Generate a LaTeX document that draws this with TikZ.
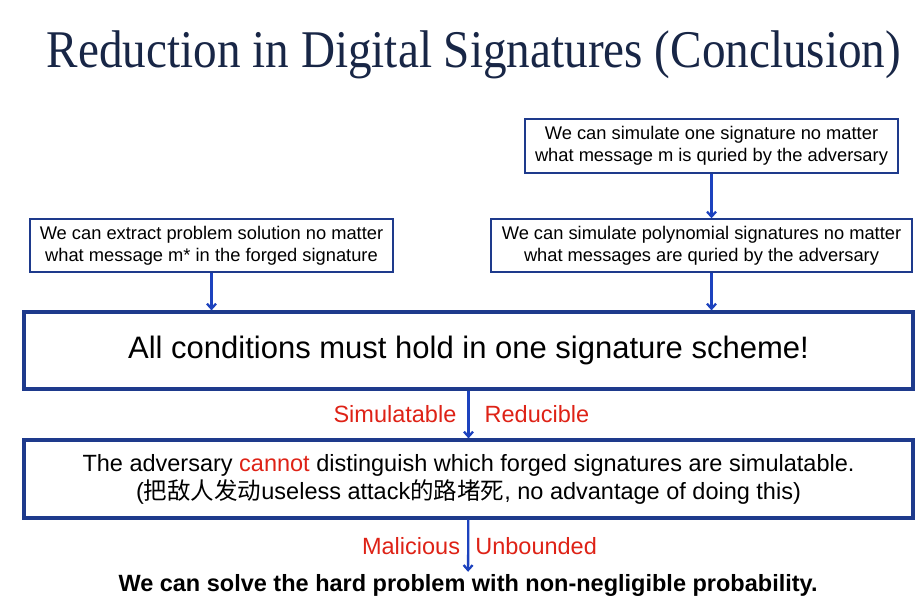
\documentclass[tikz,border=0pt]{standalone}
\usepackage{fontspec}
\setmainfont{Liberation Sans}
\newfontfamily\titlefont{Liberation Serif}
\newfontfamily\cjk{Noto Sans CJK SC}
\usetikzlibrary{arrows.meta}
\definecolor{titleblue}{RGB}{24,38,70}
\definecolor{boxblue}{RGB}{30,58,140}
\definecolor{arrowblue}{RGB}{28,66,190}
\definecolor{labelred}{RGB}{222,34,22}

\begin{document}
\begin{tikzpicture}[x=1pt, y=-1pt, >={Straight Barb[length=5pt,width=9pt]},
    smallbox/.style={draw=boxblue, line width=1.4pt, align=center, inner sep=0pt,
                     font=\fontsize{18.3}{22}\selectfont},
    bigbox/.style={draw=boxblue, line width=3.2pt, align=center, inner sep=0pt,
                   minimum width=889pt},
    arrow/.style={->, arrowblue, line width=2.3pt},
    lbl/.style={text=labelred, font=\fontsize{23.5}{26}\selectfont, inner sep=0pt}]
    \useasboundingbox (0,0) rectangle (915,601);

    \node [text=titleblue, anchor=base, inner sep=0pt] (title) at (474,68)
        {\scalebox{0.89}[1]{\titlefont\fontsize{53}{60}\selectfont Reduction in Digital Signatures (Conclusion)}};

    \node [smallbox, minimum width=373pt, minimum height=54pt] (one) at (711.5,146)
        {We can simulate one signature no matter\\what message m is quried by the adversary};
    \node [smallbox, minimum width=363pt, minimum height=53pt] (extract) at (211.5,245.5)
        {We can extract problem solution no matter\\what message m* in the forged signature};
    \node [smallbox, minimum width=421pt, minimum height=53pt] (poly) at (701.5,245.5)
        {We can simulate polynomial signatures no matter\\what messages are quried by the adversary};

    \node [bigbox, minimum height=77pt, font=\fontsize{31}{34}\selectfont] (cond) at (468.5,350.5)
        {All conditions must hold in one signature scheme!};
    \node [bigbox, minimum height=78pt, font=\fontsize{23.5}{28}\selectfont] (adv) at (468.5,479)
        {The adversary \textcolor{labelred}{cannot} distinguish which forged signatures are simulatable.\\
         ({\cjk 把敌人发动}useless attack{\cjk 的路堵死}, no advantage of doing this)};

    \node [font=\bfseries\fontsize{23.5}{26}\selectfont, inner sep=2pt] (solve) at (468,585)
        {We can solve the hard problem with non-negligible probability.};

    % connectors
    \draw [arrow] (one) -- (poly.north -| one);
    \draw [arrow] (extract) -- (cond.north -| extract);
    \draw [arrow] (poly.south -| one) -- (cond.north -| one);
    \draw [arrow] (cond) -- (adv)
        node [lbl, pos=0.5, left=11pt] {Simulatable}
        node [lbl, pos=0.5, right=15pt] {Reducible};
    \draw [arrow] (adv) -- (solve)
        node [lbl, pos=0.5, left=7pt] {Malicious}
        node [lbl, pos=0.5, right=6pt] {Unbounded};
\end{tikzpicture}
\end{document}
